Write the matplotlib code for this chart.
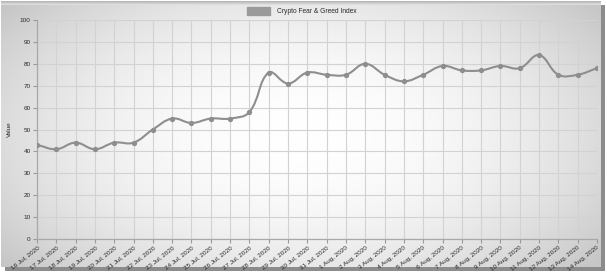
import numpy as np
import matplotlib
matplotlib.use('Agg')
import matplotlib.pyplot as plt
from matplotlib.path import Path
from matplotlib.patches import PathPatch, Patch

plt.rcParams['font.family'] = ['Liberation Sans', 'DejaVu Sans']

# Data
dates = ['16 Jul, 2020', '17 Jul, 2020', '18 Jul, 2020', '19 Jul, 2020', '20 Jul, 2020',
         '21 Jul, 2020', '22 Jul, 2020', '23 Jul, 2020', '24 Jul, 2020', '25 Jul, 2020',
         '26 Jul, 2020', '27 Jul, 2020', '28 Jul, 2020', '29 Jul, 2020', '30 Jul, 2020',
         '31 Jul, 2020', '1 Aug, 2020', '2 Aug, 2020', '3 Aug, 2020', '4 Aug, 2020',
         '5 Aug, 2020', '6 Aug, 2020', '7 Aug, 2020', '8 Aug, 2020', '9 Aug, 2020',
         '10 Aug, 2020', '11 Aug, 2020', '12 Aug, 2020', '13 Aug, 2020', '14 Aug, 2020']
values = [43, 41, 44, 41, 44, 44, 50, 55, 53, 55,
          55, 58, 76, 71, 76, 75, 75, 80, 75, 72,
          75, 79, 77, 77, 79, 78, 84, 75, 75, 78]
series_name = 'Crypto Fear & Greed Index'
y_ticks = list(range(0, 101, 10))

W, H = 607, 275
fig = plt.figure(figsize=(W / 100, H / 100), dpi=100)

# background: framed panel with shadow and radial gradient
bg = np.ones((H, W, 3))
yy, xx = np.mgrid[0:H, 0:W]
shadow = (xx >= 5) & (xx < 605) & (yy >= 5) & (yy < 271)
bg[shadow] = 0.55
panel = (xx >= 1) & (xx < 601) & (yy >= 1) & (yy < 267)
r2 = ((xx - 300) / 330.0) ** 2 + ((yy - 135) / 180.0) ** 2
grad = np.clip(1.0 - 0.17 * r2, 0.78, 1.0)
bg[panel] = grad[panel][:, None]
top = panel & (yy < 5)
bg[top] = (0.72 + 0.05 * (yy[top] - 1))[:, None]
bgax = fig.add_axes([0, 0, 1, 1], zorder=-1)
bgax.imshow(bg, aspect='auto', interpolation='bilinear')
bgax.axis('off')

ax = fig.add_axes([37 / W, 1 - 239 / H, 560 / W, 219 / H])
ax.set_facecolor('none')

x = np.arange(len(values))
y = np.array(values, dtype=float)

# chart.js style bezier (tension 0.4), computed in pixel space
sx, sy = 560 / (len(values) - 1), 219 / 100
t = 0.4
P = np.column_stack([x * sx, y * sy])
cp_before = np.zeros_like(P)
cp_after = np.zeros_like(P)
for i in range(len(P)):
    prev = P[max(i - 1, 0)]
    cur = P[i]
    nxt = P[min(i + 1, len(P) - 1)]
    d01 = np.hypot(*(cur - prev))
    d12 = np.hypot(*(nxt - cur))
    tot = d01 + d12 if d01 + d12 > 0 else 1
    fa = t * d01 / tot
    fb = t * d12 / tot
    cp_before[i] = cur - fa * (nxt - prev)
    cp_after[i] = cur + fb * (nxt - prev)

verts = [P[0]]
codes = [Path.MOVETO]
for i in range(len(P) - 1):
    verts += [cp_after[i], cp_before[i + 1], P[i + 1]]
    codes += [Path.CURVE4] * 3
verts = np.array(verts) / np.array([sx, sy])
ax.add_patch(PathPatch(Path(verts, codes), fill=False, edgecolor='#8e8e8e', lw=1.5,
                       zorder=3, capstyle='round', joinstyle='round'))
ax.plot(x, y, 'o', color='#8e8e8e', markersize=2.8, zorder=4)

ax.set_xlim(0, len(values) - 1)
ax.set_ylim(0, 100)
ax.set_yticks(y_ticks)
ax.set_xticks(x)
ax.set_xticklabels(dates, rotation=38, ha='right', va='top', rotation_mode='anchor')
ax.tick_params(axis='both', labelsize=4.6, colors='#9a9a9a', labelcolor='#2a2a2a',
               length=3, width=0.8, pad=1.5)
ax.grid(True, color='#d2d2d2', lw=0.8)
ax.set_axisbelow(True)
for s in ['top', 'right']:
    ax.spines[s].set_visible(False)
for s in ['left', 'bottom']:
    ax.spines[s].set_color('#a8a8a8')
    ax.spines[s].set_linewidth(0.9)
ax.set_ylabel('Value', fontsize=4.6, color='#2a2a2a', labelpad=6)

fig.legend(handles=[Patch(facecolor='#9a9a9a', edgecolor='#9a9a9a')], labels=[series_name],
           loc='upper center', bbox_to_anchor=(0.497, 0.995), frameon=False, fontsize=4.8,
           handlelength=3.4, handleheight=1.4, handletextpad=1.0, labelcolor='#2a2a2a')

fig.savefig('out.png', dpi=100)
